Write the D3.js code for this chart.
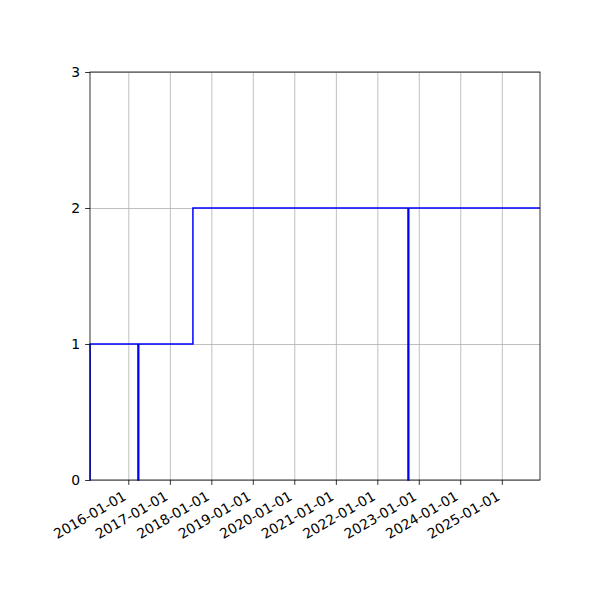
<!DOCTYPE html>
<html>
<head>
<meta charset="utf-8">
<script src="https://cdn.jsdelivr.net/npm/d3@7"></script>
<style>
  body { margin: 0; background: #fff; }
  svg text { font-family: "DejaVu Sans", sans-serif; }
</style>
</head>
<body>
<div id="chart"></div>
<script>
// Data: step series (value holds until next date)
const dates = [
  "2015-01-29", "2015-01-30",
  "2016-03-26", "2016-04-02",
  "2017-07-23",
  "2022-09-28", "2022-10-05",
  "2025-12-03"
];
const values = [0, 1, 0, 1, 2, 0, 2, 2];

const xTicks = ["2016-01-01", "2017-01-01", "2018-01-01", "2019-01-01", "2020-01-01",
                "2021-01-01", "2022-01-01", "2023-01-01", "2024-01-01", "2025-01-01"];
const yTicks = [0, 1, 2, 3];
const xRange = ["2015-01-29", "2025-12-03"];

const margin = { top: 72, right: 60, bottom: 120, left: 90 },
      width = 600 - margin.left - margin.right,
      height = 600 - margin.top - margin.bottom;

const parseDay = d3.utcParse("%Y-%m-%d");

const data = dates.map((d, i) => ({ date: parseDay(d), value: values[i] }));

const svg = d3.select("#chart")
    .append("svg")
    .attr("width", 600)
    .attr("height", 600)
  .append("g")
    .attr("transform", `translate(${margin.left},${margin.top})`);

const x = d3.scaleUtc()
    .domain(xRange.map(parseDay))
    .range([0, width]);

const y = d3.scaleLinear()
    .domain([0, 3])
    .range([height, 0]);

const tickDates = xTicks.map(parseDay);

// Grid
svg.append("g")
    .attr("class", "grid")
    .attr("transform", `translate(0,${height})`)
    .call(d3.axisBottom(x).tickValues(tickDates).tickSize(-height).tickFormat(""))
    .call(g => g.select(".domain").remove())
    .call(g => g.selectAll("line").attr("stroke", "#b0b0b0").attr("stroke-width", 0.8));

svg.append("g")
    .attr("class", "grid")
    .call(d3.axisLeft(y).tickValues(yTicks).tickSize(-width).tickFormat(""))
    .call(g => g.select(".domain").remove())
    .call(g => g.selectAll("line").attr("stroke", "#b0b0b0").attr("stroke-width", 0.8));

// Step line
const line = d3.line()
    .x(d => x(d.date))
    .y(d => y(d.value))
    .curve(d3.curveStepAfter);

svg.append("path")
    .datum(data)
    .attr("fill", "none")
    .attr("stroke", "#0000ff")
    .attr("stroke-width", 1.5)
    .attr("d", line);

// Spines
svg.append("rect")
    .attr("width", width)
    .attr("height", height)
    .attr("fill", "none")
    .attr("stroke", "#000")
    .attr("stroke-width", 0.8);

// X axis
const xAxis = svg.append("g")
    .attr("transform", `translate(0,${height})`)
    .call(d3.axisBottom(x).tickValues(tickDates).tickSize(4.9).tickFormat(d3.utcFormat("%Y-%m-%d")));

xAxis.select(".domain").remove();
xAxis.selectAll("line").attr("stroke", "#000").attr("stroke-width", 0.8);
xAxis.selectAll("text")
    .attr("y", 0)
    .attr("dy", 0)
    .attr("fill", "#000")
    .style("font-size", "13.9px")
    .attr("text-anchor", "end")
    .attr("transform", "translate(-1.5,19) rotate(-30)");

// Y axis
const yAxis = svg.append("g")
    .call(d3.axisLeft(y).tickValues(yTicks).tickSize(4.9).tickPadding(4.9).tickFormat(d3.format("d")));

yAxis.select(".domain").remove();
yAxis.selectAll("line").attr("stroke", "#000").attr("stroke-width", 0.8);
yAxis.selectAll("text")
    .attr("fill", "#000")
    .style("font-size", "13.9px");
</script>
</body>
</html>
